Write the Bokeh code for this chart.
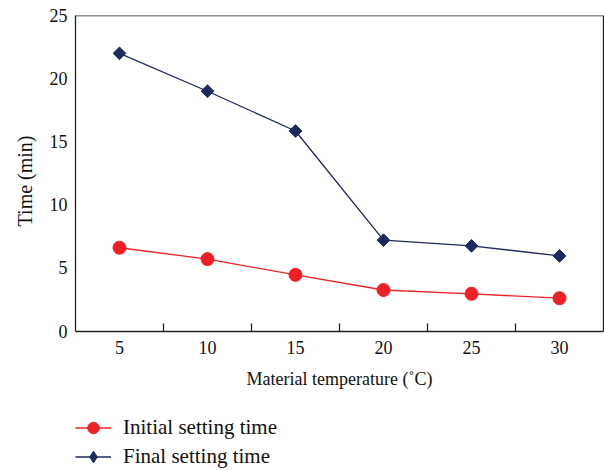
from bokeh.plotting import figure
from bokeh.models import FixedTicker, Legend, LegendItem, Range1d, LinearAxis, Span, Title
from bokeh.embed import file_html
from bokeh.resources import INLINE

temps = [5, 10, 15, 20, 25, 30]
initial_time = [6.6, 5.7, 4.45, 3.25, 2.95, 2.6]
final_time = [22.0, 19.0, 15.85, 7.2, 6.75, 5.95]
x_ticks = [5, 10, 15, 20, 25, 30]
x_minor = [7.5, 12.5, 17.5, 22.5, 27.5]
y_ticks = [0, 5, 10, 15, 20, 25]

RED = "#EE2027"
NAVY = "#1E2A5C"
AX = "#222222"
FONT = "Liberation Serif"

p = figure(width=604, height=470, output_backend="svg", toolbar_location=None,
           x_range=Range1d(2.5, 32.5), y_range=Range1d(-11.05, 25),
           min_border_left=74, min_border_right=1, min_border_top=15, min_border_bottom=0)
p.extra_y_ranges = {"hidden": Range1d(1000, 1001)}

p.xgrid.visible = False
p.ygrid.visible = False
p.outline_line_color = None

r1 = p.line(temps, initial_time, line_color=RED, line_width=1.3)
m1 = p.scatter(temps, initial_time, marker="circle", size=13, fill_color=RED, line_color=RED)
r2 = p.line(temps, final_time, line_color=NAVY, line_width=1.3)
m2 = p.scatter(temps, final_time, marker="square", size=9, angle=0.785398,
               fill_color=NAVY, line_color=NAVY)
# legend-only marker (off-screen range)
m2_leg = p.scatter(temps, final_time, marker="diamond", size=13, y_range_name="hidden",
                   fill_color=NAVY, line_color=NAVY)

xa = p.xaxis[0]
xa.fixed_location = 0
xa.ticker = FixedTicker(ticks=x_ticks, minor_ticks=x_minor)
xa.major_tick_in = 0
xa.major_tick_out = 0
xa.minor_tick_in = 8
xa.minor_tick_out = 0
xa.minor_tick_line_color = AX
xa.minor_tick_line_width = 1.3
xa.axis_line_color = AX
xa.axis_line_width = 1.3
xa.major_label_text_font = FONT
xa.major_label_text_font_size = "18px"
xa.major_label_text_color = "#111111"
xa.major_label_standoff = 10
xa.axis_label = "Material temperature (\u02daC)"
xa.axis_label_text_font = FONT
xa.axis_label_text_font_size = "18px"
xa.axis_label_text_font_style = "normal"
xa.axis_label_text_color = "#111111"
xa.axis_label_standoff = 11

ya = p.yaxis[0]
ya.bounds = (0, 25)
ya.ticker = FixedTicker(ticks=y_ticks)
ya.major_tick_in = 0
ya.major_tick_out = 0
ya.minor_tick_in = 0
ya.minor_tick_out = 0
ya.axis_line_color = AX
ya.axis_line_width = 1.3
ya.major_label_text_font = FONT
ya.major_label_text_font_size = "18px"
ya.major_label_text_color = "#111111"
ya.major_label_standoff = 8

ytitle = Title(text="Time (min)", align="right", offset=120, text_font=FONT,
               text_font_size="20px", text_font_style="normal", text_color="#111111",
               standoff=22)
p.add_layout(ytitle, "left")

ra = LinearAxis(bounds=(0, 25), ticker=FixedTicker(ticks=[]), axis_line_color=AX,
                axis_line_width=1.3, major_tick_in=0, major_tick_out=0,
                minor_tick_in=0, minor_tick_out=0, major_label_text_font_size="0px")
p.add_layout(ra, "right")
p.add_layout(Span(location=25, dimension="width", line_color=AX, line_width=1.3))

legend = Legend(items=[
    LegendItem(label="Initial setting time", renderers=[r1, m1]),
    LegendItem(label="Final setting time", renderers=[r2, m2_leg]),
], location=(0, -1))
legend.border_line_color = None
legend.background_fill_alpha = 0
legend.padding = 0
legend.margin = 0
legend.spacing = 0
legend.glyph_width = 36
legend.glyph_height = 29
legend.label_standoff = 12
legend.label_text_font = FONT
legend.label_text_font_size = "21px"
legend.label_text_color = "#111111"
p.add_layout(legend, "center")

open("out.html", "w").write(file_html(p, INLINE))
